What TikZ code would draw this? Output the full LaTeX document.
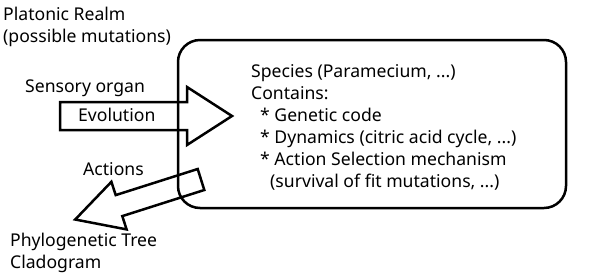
\documentclass[tikz,border=0pt]{standalone}
\usepackage{fontspec}
\setmainfont{Noto Sans}
\tikzset{
  txt/.style={anchor=base west, inner sep=0pt, font=\fontsize{17.6}{22}\selectfont},
  blockarrow/.style={draw, line width=2.5pt, line join=miter},
  realm/.style={draw, line width=2.5pt, rounded corners=22pt},
}
\begin{document}
\begin{tikzpicture}[x=1pt,y=-1pt]
\useasboundingbox (0,0) rectangle (597,274);

% species box
\draw[realm] (178,40) rectangle (566,208);
\node[txt, anchor=north west, align=left] (species) at (251,64.5)
  {Species (Paramecium, ...)\\
   Contains:\\
   \hspace{9pt}* Genetic code\\
   \hspace{9pt}* Dynamics (citric acid cycle, ...)\\
   \hspace{9pt}* Action Selection mechanism\\
   \hspace{19pt}(survival of fit mutations, ...)};

% evolution arrow
\draw[blockarrow] (60,102) -- (187,102) -- (187,87) -- (232,116)
  -- (187,145) -- (187,130) -- (60,130) -- cycle;
\node[txt] (evo) at (78,121) {Evolution};

% actions arrow
\draw[blockarrow] (197.7,169) -- (115.7,195.1) -- (111.4,181.8) -- (75.2,219.5)
  -- (126.6,229.4) -- (122.3,216.1) -- (204.3,190) -- cycle;

% labels
\node[txt] (realm) at (3,20) {Platonic Realm};
\node[txt] (mut) at (3,42) {(possible mutations)};
\node[txt] (organ) at (25,92) {Sensory organ};
\node[txt] (act) at (83,175) {Actions};
\node[txt] (tree) at (10,246) {Phylogenetic Tree};
\node[txt] (clado) at (10,268) {Cladogram};
\end{tikzpicture}
\end{document}
